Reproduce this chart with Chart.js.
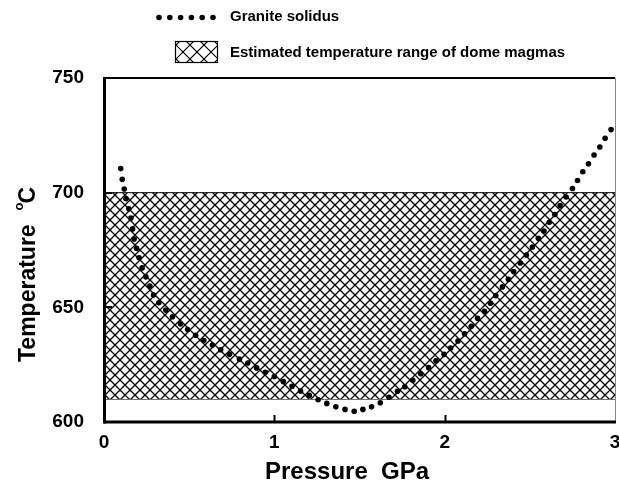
<!DOCTYPE html>
<html><head><meta charset="utf-8">
<script src="https://cdn.jsdelivr.net/npm/chart.js@4.4.0/dist/chart.umd.min.js"></script>
<style>html,body{margin:0;padding:0;background:#fff;}#wrap{width:619px;height:483px;position:relative;}</style>
</head><body><div id="wrap"><canvas id="c" width="619" height="483"></canvas></div>
<script>
// ---- data ----
const solidusPressure = [0.098,0.107,0.119,0.129,0.146,0.158,0.168,0.177,0.191,0.206,0.224,0.246,0.269,0.291,0.322,0.363,0.402,0.449,0.491,0.538,0.586,0.636,0.685,0.737,0.795,0.844,0.896,0.947,1.000,1.053,1.104,1.154,1.205,1.257,1.308,1.361,1.415,1.469,1.520,1.571,1.622,1.673,1.723,1.766,1.813,1.860,1.906,1.949,1.996,2.035,2.078,2.117,2.156,2.193,2.234,2.269,2.300,2.339,2.374,2.405,2.444,2.480,2.515,2.550,2.583,2.614,2.647,2.678,2.713,2.750,2.780,2.811,2.844,2.877,2.911,2.942,2.977];
const solidusTemperature = [710.5,705.8,701.6,697.4,693.0,688.9,684.2,679.8,675.7,671.6,667.2,663.3,659.3,655.4,652.0,648.8,645.9,642.8,640.3,637.8,635.5,633.6,631.5,629.5,627.4,625.7,623.6,621.7,619.8,617.6,615.6,613.5,611.6,609.7,608.1,606.6,605.5,604.7,605.5,606.6,608.4,610.8,613.4,615.4,618.2,621.0,623.7,626.7,629.5,632.3,635.3,638.5,641.7,645.2,648.3,651.8,655.1,658.9,662.2,665.6,669.3,672.8,676.3,680.1,683.3,687.1,690.5,694.4,698.1,701.8,705.3,709.1,712.6,716.4,719.9,723.7,727.5];
const bandPressure = [0, 3];
const bandUpper = [700, 700];
const bandLower = [610, 610];
const xTickValues = [0, 1, 2, 3];
const yTickValues = [600, 650, 700, 750];
const seriesLabels = ['Granite solidus', 'Estimated temperature range of dome magmas'];
const xTitle = 'Pressure  GPa';
const yTitle = 'Temperature';
const yUnitSup = 'o';
const yUnit = 'C';

const FONT = '"Liberation Sans", Arial, Helvetica, sans-serif';

function makeHatch(period) {
  const c = document.createElement('canvas');
  c.width = period; c.height = period;
  const g = c.getContext('2d');
  g.fillStyle = '#fff'; g.fillRect(0, 0, period, period);
  g.strokeStyle = '#000'; g.lineWidth = 1.35;
  g.beginPath();
  g.moveTo(-1, -1); g.lineTo(period + 1, period + 1);
  g.moveTo(-1, period + 1); g.lineTo(period + 1, -1);
  g.stroke();
  return g.createPattern(c, 'repeat');
}
const hatch = makeHatch(10);

const framePlugin = {
  id: 'frame',
  afterDatasetsDraw(chart) {
    const ctx = chart.ctx, a = chart.chartArea;
    const xs = chart.scales.x, ys = chart.scales.y;
    ctx.save();
    ctx.strokeStyle = '#000';
    ctx.lineCap = 'butt';
    ctx.lineWidth = 2;
    xTickValues.slice(1, -1).forEach(v => {
      const px = Math.round(xs.getPixelForValue(v)) + 0.5;
      ctx.beginPath(); ctx.moveTo(px, a.bottom); ctx.lineTo(px, a.bottom - 7); ctx.stroke();
    });
    yTickValues.slice(1, -1).forEach(v => {
      const py = Math.round(ys.getPixelForValue(v));
      ctx.beginPath(); ctx.moveTo(a.left, py); ctx.lineTo(a.left + 8, py); ctx.stroke();
    });
    ctx.strokeStyle = '#888'; ctx.lineWidth = 1;
    ctx.beginPath(); ctx.moveTo(a.right + 0.5, a.top); ctx.lineTo(a.right + 0.5, a.bottom); ctx.stroke();
    ctx.strokeStyle = '#000';
    ctx.lineWidth = 2;
    ctx.beginPath(); ctx.moveTo(a.left, a.top); ctx.lineTo(a.right, a.top); ctx.stroke();
    ctx.lineWidth = 3;
    ctx.beginPath(); ctx.moveTo(a.left, a.bottom); ctx.lineTo(a.right + 1, a.bottom); ctx.stroke();
    ctx.beginPath(); ctx.moveTo(a.left + 0.5, a.top - 1); ctx.lineTo(a.left + 0.5, a.bottom + 1.5); ctx.stroke();
    ctx.restore();
  },
  afterDraw(chart) {
    const ctx = chart.ctx;
    ctx.save();
    ctx.fillStyle = '#000';
    for (let i = 0; i < 6; i++) {
      ctx.beginPath(); ctx.arc(159 + i * 10.8, 17.5, 2.8, 0, Math.PI * 2); ctx.fill();
    }
    ctx.font = 'bold 15px ' + FONT;
    ctx.textBaseline = 'middle';
    ctx.textAlign = 'left';
    ctx.fillText(seriesLabels[0], 230, 17);
    const bx = 175, by = 41, bw = 43, bh = 22;
    ctx.save();
    ctx.beginPath(); ctx.rect(bx, by, bw, bh); ctx.clip();
    ctx.fillStyle = '#fff'; ctx.fillRect(bx, by, bw, bh);
    ctx.strokeStyle = '#000'; ctx.lineWidth = 1.2;
    const cy = by + bh / 2;
    for (let k = -3; k <= 6; k++) {
      const cx = bx + 8 + k * 14;
      ctx.beginPath();
      ctx.moveTo(cx - 30, cy - 30); ctx.lineTo(cx + 30, cy + 30);
      ctx.moveTo(cx - 30, cy + 30); ctx.lineTo(cx + 30, cy - 30);
      ctx.stroke();
    }
    ctx.restore();
    ctx.strokeStyle = '#000'; ctx.lineWidth = 1.2;
    ctx.strokeRect(bx + 0.5, by + 0.5, bw - 1, bh - 1);
    ctx.fillStyle = '#000';
    ctx.fillText(seriesLabels[1], 230, 53);
    ctx.font = 'bold 24px ' + FONT;
    ctx.textBaseline = 'alphabetic';
    ctx.fillText(xTitle, 265, 479);
    ctx.translate(35, 362);
    ctx.rotate(-Math.PI / 2);
    ctx.font = 'bold 23px ' + FONT;
    ctx.fillText(yTitle, 0, 0);
    const w = ctx.measureText(yTitle).width;
    ctx.font = 'bold 13px ' + FONT;
    ctx.fillText(yUnitSup, w + 14, -12);
    ctx.font = 'bold 23px ' + FONT;
    ctx.fillText(yUnit, w + 21, 0);
    ctx.restore();
  }
};

new Chart(document.getElementById('c'), {
  type: 'scatter',
  data: {
    datasets: [
      {
        label: seriesLabels[0],
        data: solidusPressure.map((p, i) => ({ x: p, y: solidusTemperature[i] })),
        showLine: false,
        pointRadius: 2.8,
        pointBackgroundColor: '#000',
        pointBorderWidth: 0,
        order: 0
      },
      {
        label: seriesLabels[1],
        data: bandPressure.map((p, i) => ({ x: p, y: bandUpper[i] })),
        showLine: true,
        pointRadius: 0,
        borderColor: '#000',
        borderWidth: 1,
        backgroundColor: hatch,
        fill: '+1',
        order: 1
      },
      {
        label: 'lower',
        data: bandPressure.map((p, i) => ({ x: p, y: bandLower[i] })),
        showLine: true,
        pointRadius: 0,
        borderColor: '#000',
        borderWidth: 1,
        fill: false,
        order: 2
      }
    ]
  },
  options: {
    responsive: false,
    animation: false,
    devicePixelRatio: 1,
    layout: { padding: { top: 78, right: 2, left: 0, bottom: 0 } },
    plugins: { legend: { display: false }, tooltip: { enabled: false } },
    scales: {
      x: {
        type: 'linear', min: 0, max: 3,
        afterBuildTicks: s => { s.ticks = xTickValues.map(v => ({ value: v })); },
        ticks: { color: '#000', font: { family: FONT, size: 19, weight: 'bold' }, padding: 9, maxRotation: 0, autoSkip: false },
        grid: { display: false, drawTicks: false },
        border: { display: false },
        afterFit: s => { s.height = 61; s.paddingLeft = 0; s.paddingRight = 0; }
      },
      y: {
        type: 'linear', min: 600, max: 750,
        afterBuildTicks: s => { s.ticks = yTickValues.map(v => ({ value: v })); },
        ticks: { color: '#000', font: { family: FONT, size: 19, weight: 'bold' }, padding: 20, autoSkip: false },
        grid: { display: false, drawTicks: false },
        border: { display: false },
        afterFit: s => { s.width = 104; s.paddingTop = 0; s.paddingBottom = 0; }
      }
    }
  },
  plugins: [framePlugin]
});
</script></body></html>
